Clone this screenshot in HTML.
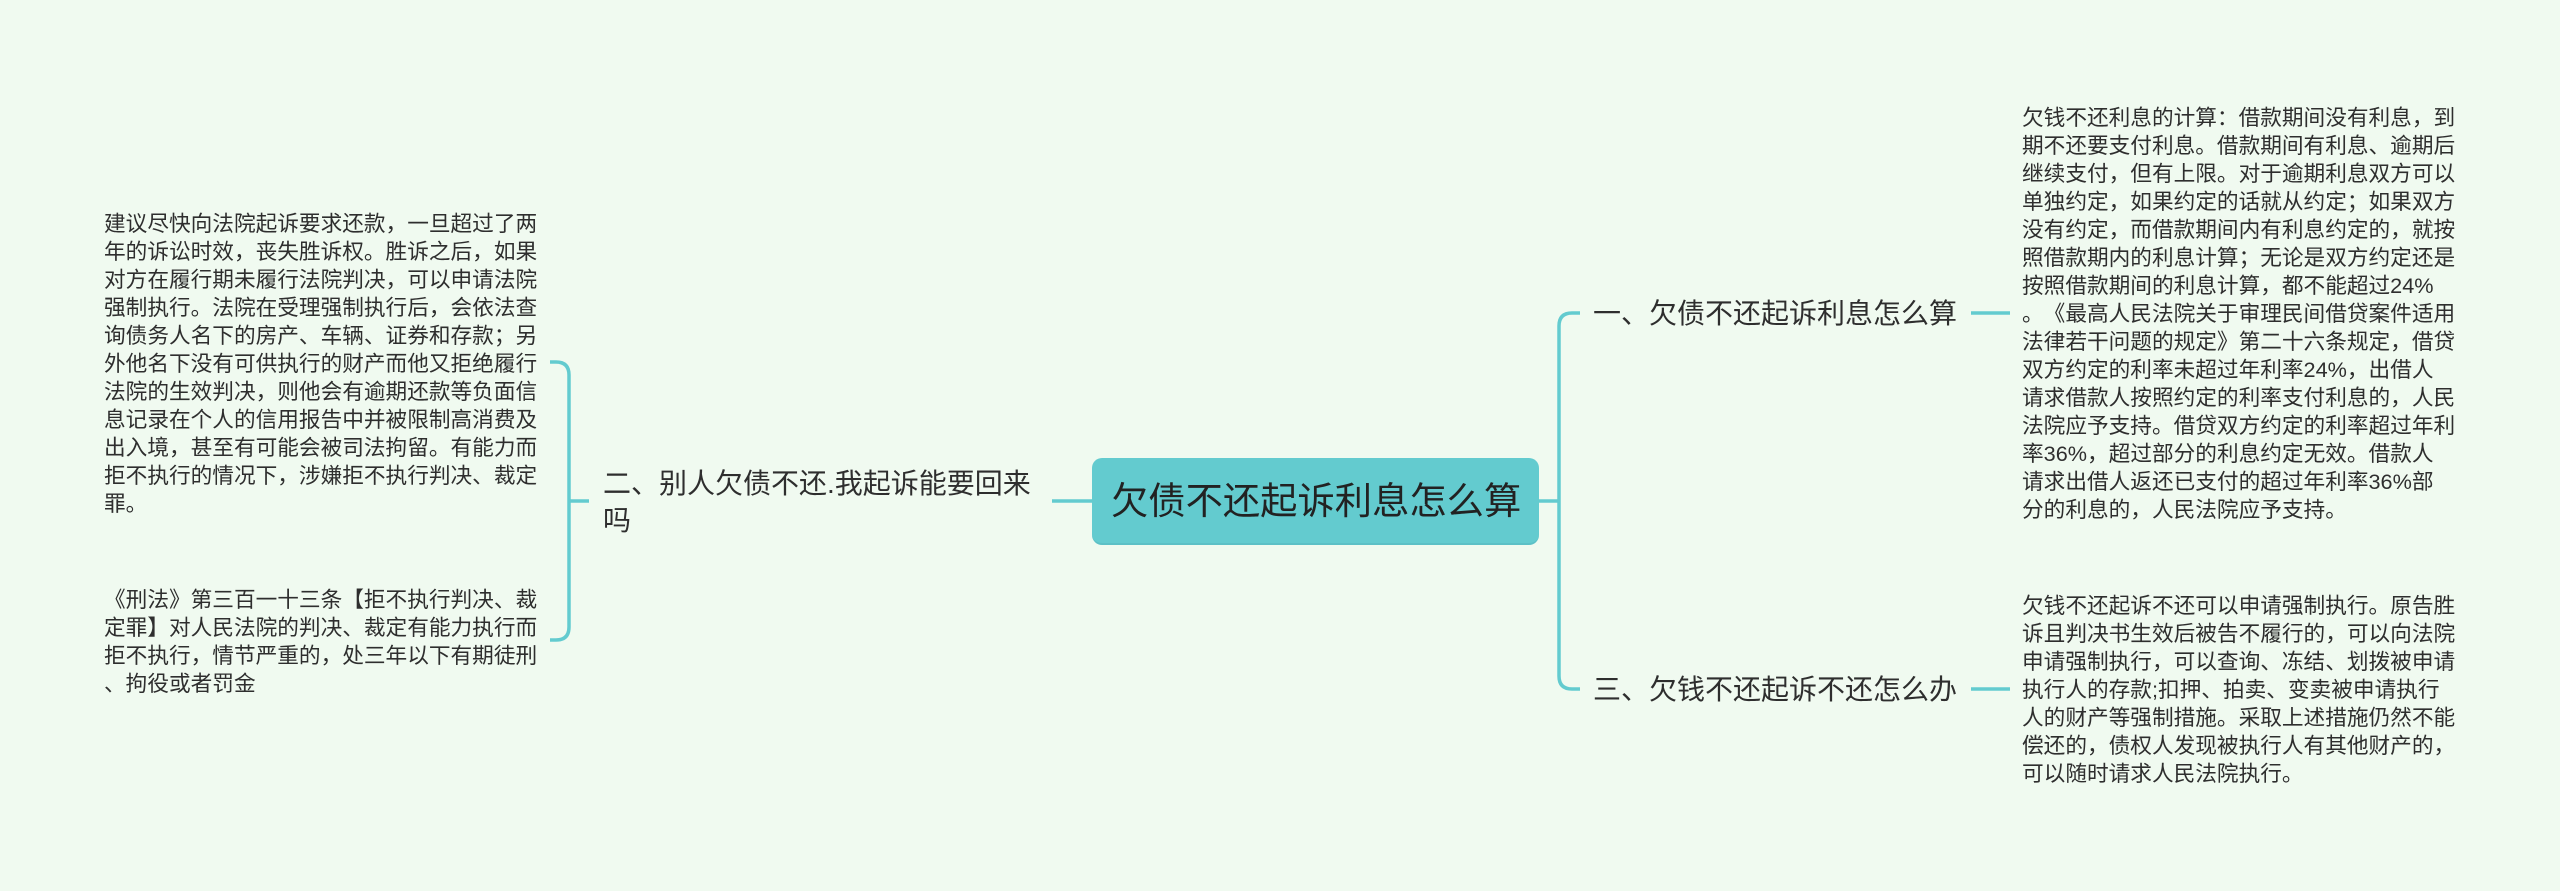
<!DOCTYPE html>
<html lang="zh"><head><meta charset="utf-8"><style>
html,body{margin:0;padding:0;width:2560px;height:891px;overflow:hidden;background:#f0faf0}
.t{position:absolute;white-space:nowrap;font-family:"Liberation Sans","Noto Sans CJK SC",sans-serif;color:#2e2e2e;text-spacing-trim:space-all;font-kerning:none}
.s{font-size:21.67px;line-height:28px}
.b{font-size:28px;line-height:37px}
svg{position:absolute;left:0;top:0}
#c{position:absolute;left:1092px;top:458px;width:447px;height:87px;background:#63cbcf;border-radius:10px;box-sizing:border-box;border-bottom:2px solid #5cc0c6}
</style></head><body>
<svg width="2560" height="891" fill="none" stroke="#63cbcf" stroke-width="3.5">
<path d="M550 362H556Q569 362 569 375V627Q569 640 556 640H550"/>
<path d="M569 501H589M1052 501H1092M1538 501H1559"/>
<path d="M1580 313H1572Q1559 313 1559 326V676Q1559 689 1572 689H1580"/>
<path d="M1971 313H2010M1971 689H2010"/>
</svg>
<div id="c"></div>
<div class="t" style="left:1111px;top:471px;font-size:37.3px;line-height:60px;color:#222">欠债不还起诉利息怎么算</div>
<div class="t b" style="left:603px;top:465px">二、别人欠债不还.我起诉能要回来<br>吗</div>
<div class="t b" style="left:1593px;top:295px">一、欠债不还起诉利息怎么算</div>
<div class="t b" style="left:1593px;top:671px">三、欠钱不还起诉不还怎么办</div>
<div class="t s" style="left:104px;top:210px">建议尽快向法院起诉要求还款，一旦超过了两<br>年的诉讼时效，丧失胜诉权。胜诉之后，如果<br>对方在履行期未履行法院判决，可以申请法院<br>强制执行。法院在受理强制执行后，会依法查<br>询债务人名下的房产、车辆、证券和存款；另<br>外他名下没有可供执行的财产而他又拒绝履行<br>法院的生效判决，则他会有逾期还款等负面信<br>息记录在个人的信用报告中并被限制高消费及<br>出入境，甚至有可能会被司法拘留。有能力而<br>拒不执行的情况下，涉嫌拒不执行判决、裁定<br>罪。</div>
<div class="t s" style="left:104px;top:586px">《刑法》第三百一十三条【拒不执行判决、裁<br>定罪】对人民法院的判决、裁定有能力执行而<br>拒不执行，情节严重的，处三年以下有期徒刑<br>、拘役或者罚金</div>
<div class="t s" style="left:2022px;top:104px">欠钱不还利息的计算：借款期间没有利息，到<br>期不还要支付利息。借款期间有利息、逾期后<br>继续支付，但有上限。对于逾期利息双方可以<br>单独约定，如果约定的话就从约定；如果双方<br>没有约定，而借款期间内有利息约定的，就按<br>照借款期内的利息计算；无论是双方约定还是<br>按照借款期间的利息计算，都不能超过24%<br>。《最高人民法院关于审理民间借贷案件适用<br>法律若干问题的规定》第二十六条规定，借贷<br>双方约定的利率未超过年利率24%，出借人<br>请求借款人按照约定的利率支付利息的，人民<br>法院应予支持。借贷双方约定的利率超过年利<br>率36%，超过部分的利息约定无效。借款人<br>请求出借人返还已支付的超过年利率36%部<br>分的利息的，人民法院应予支持。</div>
<div class="t s" style="left:2022px;top:592px">欠钱不还起诉不还可以申请强制执行。原告胜<br>诉且判决书生效后被告不履行的，可以向法院<br>申请强制执行，可以查询、冻结、划拨被申请<br>执行人的存款;扣押、拍卖、变卖被申请执行<br>人的财产等强制措施。采取上述措施仍然不能<br>偿还的，债权人发现被执行人有其他财产的，<br>可以随时请求人民法院执行。</div>
</body></html>
